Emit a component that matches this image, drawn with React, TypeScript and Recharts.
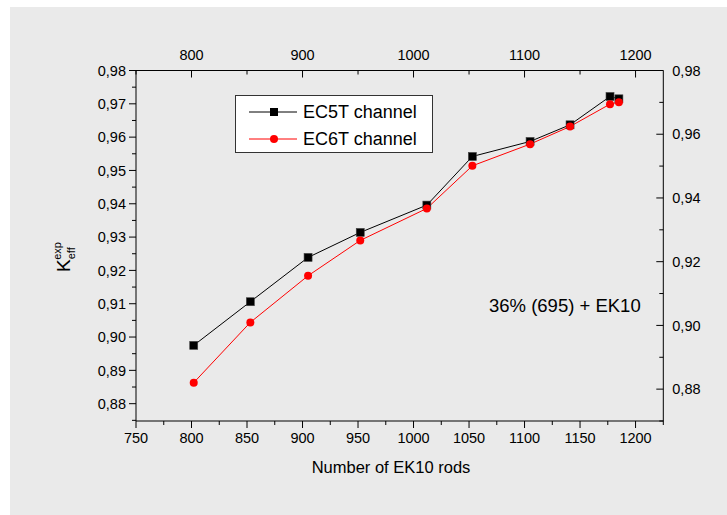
import React from 'react';
import { LineChart, Line, XAxis, YAxis, Legend, Customized } from 'recharts';

// Number of EK10 rods loaded in the core
const rods = [802, 853, 905, 952, 1012, 1053, 1105, 1141, 1177, 1185];
// Measured k_eff for each detector channel
const ec5t = [0.8975, 0.9106, 0.9239, 0.9314, 0.9396, 0.9542, 0.9587, 0.9637, 0.9722, 0.9715];
const ec6t = [0.8863, 0.9044, 0.9184, 0.929, 0.9386, 0.9514, 0.9579, 0.9632, 0.9699, 0.9705];

// Tick positions
const bottomMajor = [750, 800, 850, 900, 950, 1000, 1050, 1100, 1150, 1200];
const bottomMinor = [775, 825, 875, 925, 975, 1025, 1075, 1125, 1175, 1225];
const topMajor = [800, 900, 1000, 1100, 1200];
const topMinor = [750, 850, 950, 1050, 1150];
const leftMajor = [0.88, 0.89, 0.9, 0.91, 0.92, 0.93, 0.94, 0.95, 0.96, 0.97, 0.98];
const leftMinor = [0.875, 0.885, 0.895, 0.905, 0.915, 0.925, 0.935, 0.945, 0.955, 0.965, 0.975];
const rightMajor = [0.88, 0.9, 0.92, 0.94, 0.96, 0.98];
const rightMinor = [0.87, 0.89, 0.91, 0.93, 0.95, 0.97];

const rodsDomain = [750, 1225];
const leftDomain = [0.8748, 0.98];
const rightDomain = [0.87, 0.98];

const data = rods.map((r, i) => ({ rods: r, ec5t: ec5t[i], ec6t: ec6t[i] }));

const FONT = '"Liberation Sans", Arial, sans-serif';
const TICK_FONT = 14.5;

const isIn = (list: number[], v: number) => list.some((m) => Math.abs(m - v) < 1e-9);
const commaFmt = (v: number) => v.toFixed(2).replace('.', ',');

type Side = 'left' | 'right' | 'top' | 'bottom';

function makeTick(side: Side, majors: number[], fmt: (v: number) => string) {
  return (props: any) => {
    const { x, y, payload, index } = props;
    const v = payload.value as number;
    const major = isIn(majors, v);
    const len = major ? 7 : 4;
    let line: any;
    let label: any = null;
    if (side === 'left') {
      line = <line x1={x - len} y1={y} x2={x} y2={y} stroke="#000" />;
      if (major)
        label = (
          <text x={x - 10} y={y} dy="0.36em" textAnchor="end" fontSize={TICK_FONT} fill="#000" fontFamily={FONT}>
            {fmt(v)}
          </text>
        );
    } else if (side === 'right') {
      line = <line x1={x - len} y1={y} x2={x} y2={y} stroke="#000" />;
      if (major)
        label = (
          <text x={x + 9} y={y} dy="0.36em" textAnchor="start" fontSize={TICK_FONT} fill="#000" fontFamily={FONT}>
            {fmt(v)}
          </text>
        );
    } else if (side === 'bottom') {
      line = <line x1={x} y1={y} x2={x} y2={y + len} stroke="#000" />;
      if (major)
        label = (
          <text x={x} y={y + 22} textAnchor="middle" fontSize={TICK_FONT} fill="#000" fontFamily={FONT}>
            {fmt(v)}
          </text>
        );
    } else {
      line = <line x1={x} y1={y} x2={x} y2={y + len} stroke="#000" />;
      if (major)
        label = (
          <text x={x} y={y - 11} textAnchor="middle" fontSize={TICK_FONT} fill="#000" fontFamily={FONT}>
            {fmt(v)}
          </text>
        );
    }
    return (
      <g key={`${side}-${index}`}>
        {line}
        {label}
      </g>
    );
  };
}

const SquareDot = (props: any) => {
  const { cx, cy, index } = props;
  if (cx == null || cy == null) return <g key={`sq-${index}`} />;
  return <rect key={`sq-${index}`} x={cx - 4} y={cy - 4} width={8} height={8} fill="#000" stroke="#444" strokeWidth={0.6} />;
};

const renderLegend = (props: any) => {
  const items = props.payload || [];
  return (
    <svg width={198} height={58} style={{ display: 'block' }}>
      <rect x={0.5} y={0.5} width={197} height={57} fill="#fff" stroke="#333" strokeWidth={1} />
      {items.map((p: any, i: number) => {
        const cy = 17 + i * 27;
        const color = p.color;
        const square = p.dataKey === 'ec5t';
        return (
          <g key={`lg-${i}`}>
            <line x1={14} y1={cy} x2={62} y2={cy} stroke={color} strokeWidth={1} />
            {square ? (
              <rect x={35} y={cy - 4} width={8} height={8} fill={color} />
            ) : (
              <circle cx={39} cy={cy} r={4} fill={color} />
            )}
            <text x={68} y={cy} dy="0.36em" fontSize={18} fontFamily={FONT} fill="#000">
              {p.value}
            </text>
          </g>
        );
      })}
    </svg>
  );
};

const Annotations = () => (
  <g>
    <text
      transform="translate(70, 272) rotate(-90)"
      x={0}
      y={0}
      fontFamily={FONT}
      fill="#000"
    >
      <tspan fontSize={19}>K</tspan>
      <tspan fontSize={11} dy={5}>eff</tspan>
      <tspan fontSize={11} dx={-12.5} dy={-14}>exp</tspan>
    </text>
    <text x={489} y={312} fontSize={18.5} fontFamily={FONT} fill="#000">
      36% (695) + EK10
    </text>
    <text x={391} y={473} textAnchor="middle" fontSize={16.5} fontFamily={FONT} fill="#000">
      Number of EK10 rods
    </text>
  </g>
);

export default function App() {
  return (
    <div style={{ position: 'absolute', left: 0, top: 0, width: 727, height: 515, background: '#fff' }}>
      <div style={{ position: 'absolute', left: 10, top: 7, right: 0, bottom: 0, background: '#EAEAEA' }} />
      <div style={{ position: 'absolute', left: 0, top: 0 }}>
        <LineChart
          width={727}
          height={515}
          data={data}
          margin={{ top: 40.5, right: 3.7, bottom: 64, left: 76 }}
          style={{ fontFamily: FONT }}
        >
          <XAxis
            xAxisId="bottom"
            dataKey="rods"
            type="number"
            orientation="bottom"
            domain={rodsDomain}
            ticks={[...bottomMajor, ...bottomMinor]}
            interval={0}
            allowDataOverflow
            height={30}
            tickSize={0}
            tickMargin={0}
            tickLine={false}
            axisLine={{ stroke: '#000', strokeWidth: 1 }}
            tick={makeTick('bottom', bottomMajor, (v) => String(v))}
          />
          <XAxis
            xAxisId="top"
            dataKey="rods"
            type="number"
            orientation="top"
            domain={rodsDomain}
            ticks={[...topMajor, ...topMinor]}
            interval={0}
            allowDataOverflow
            height={30}
            tickSize={0}
            tickMargin={0}
            tickLine={false}
            axisLine={{ stroke: '#000', strokeWidth: 1 }}
            tick={makeTick('top', topMajor, (v) => String(v))}
          />
          <YAxis
            yAxisId="left"
            type="number"
            orientation="left"
            domain={leftDomain}
            ticks={[...leftMajor, ...leftMinor]}
            interval={0}
            allowDataOverflow
            width={60}
            tickSize={0}
            tickMargin={0}
            tickLine={false}
            axisLine={{ stroke: '#000', strokeWidth: 1 }}
            tick={makeTick('left', leftMajor, commaFmt)}
          />
          <YAxis
            yAxisId="right"
            type="number"
            orientation="right"
            domain={rightDomain}
            ticks={[...rightMajor, ...rightMinor]}
            interval={0}
            allowDataOverflow
            width={60}
            tickSize={0}
            tickMargin={0}
            tickLine={false}
            axisLine={{ stroke: '#000', strokeWidth: 1 }}
            tick={makeTick('right', rightMajor, commaFmt)}
          />
          <Legend
            layout="horizontal"
            verticalAlign="middle"
            align="center"
            content={renderLegend}
            wrapperStyle={{ left: 235, top: 95, width: 198, height: 58 }}
          />
          <Line
            xAxisId="bottom"
            yAxisId="left"
            dataKey="ec5t"
            name="EC5T channel"
            stroke="#000"
            strokeWidth={1}
            dot={SquareDot}
            activeDot={false}
            isAnimationActive={false}
          />
          <Line
            xAxisId="bottom"
            yAxisId="left"
            dataKey="ec6t"
            name="EC6T channel"
            stroke="#FF0000"
            strokeWidth={1}
            dot={{ r: 4, fill: '#FF0000', stroke: '#FF0000', strokeWidth: 0 }}
            activeDot={false}
            isAnimationActive={false}
          />
          <Customized component={<Annotations />} />
        </LineChart>
      </div>
    </div>
  );
}
